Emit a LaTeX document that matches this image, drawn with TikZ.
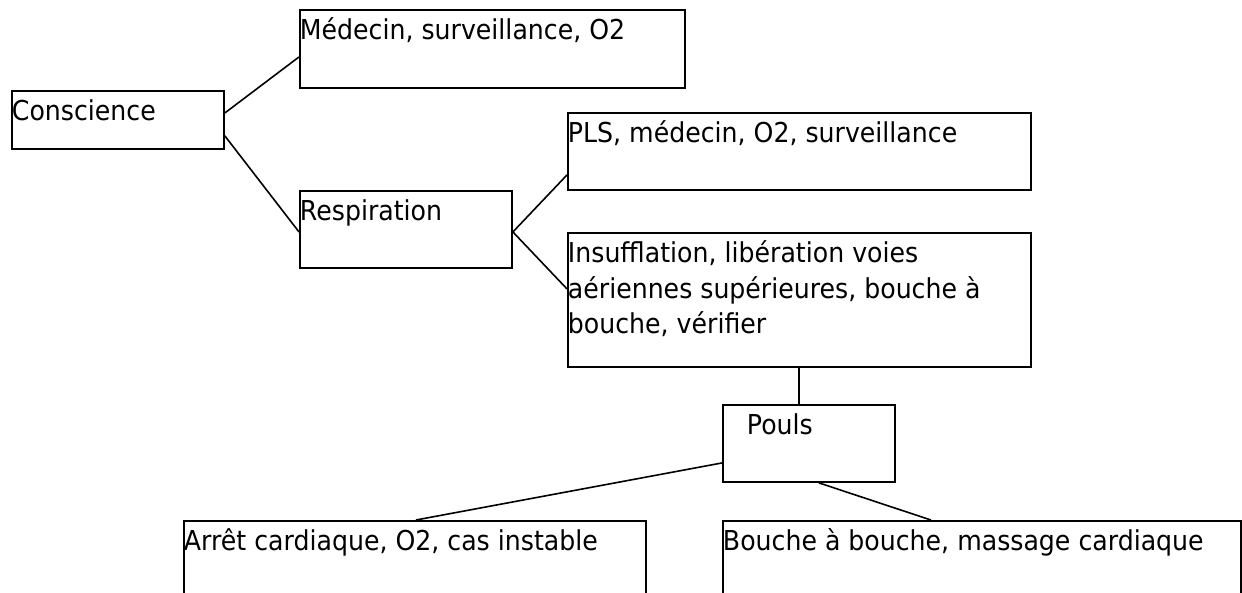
\documentclass[tikz,border=0pt]{standalone}
\usepackage{fontspec}
\setmainfont{DejaVu Sans}[FakeStretch=0.92]
\usetikzlibrary{positioning}
\tikzset{
  x=1pt, y=-1pt, % un pixel du schema = 1pt, vers le bas
  boite/.style={draw, line width=1.9pt, anchor=north west, inner sep=0pt,
    font=\fontsize{27.4pt}{35.5pt}\selectfont}, % les cases du schema
  trait/.style={line width=1.6pt}, % les liens entre les cases
}
% texte en haut a gauche d'une case : largeur, hauteur, texte
\newcommand{\casetexte}[3]{\parbox[c][#2][t]{#1}{\raggedright\rule{0pt}{30pt}#3}}

\begin{document}
\begin{tikzpicture}
      \useasboundingbox (0,0) rectangle (1242,593);
      \clip (0,0) rectangle (1242,593);

      \node[boite] (conscience) at (11,90) {\casetexte{212pt}{58pt}{Conscience}};
      \node[boite] (medecin) at (299,9) {\casetexte{385pt}{78pt}{Médecin, surveillance, O2}};
      \node[boite] (respiration) at (299,190) {\casetexte{212pt}{77pt}{Respiration}};
      \node[boite] (pls) at (567,112) {\casetexte{463pt}{77pt}{PLS, médecin, O2, surveillance}};
      \node[boite] (insufflation) at (567,232) {\casetexte{463pt}{134pt}{Insufflation, libération voies\\
        aériennes supérieures, bouche à\\ bouche, vérifier}};
      \node[boite] (pouls) at (722,404) {\casetexte{172pt}{77pt}{\hspace*{24pt}Pouls}};
      \node[boite] (arret) at (183,520) {\casetexte{462pt}{120pt}{Arrêt cardiaque, O2, cas instable}};
      \node[boite] (bouche) at (722,520) {\casetexte{518pt}{120pt}{Bouche à bouche, massage cardiaque}};

      \draw[trait]
      ([yshift=7pt]conscience.east) -- ([yshift=-8pt]medecin.west)
      ([yshift=-16pt]conscience.east) -- ([yshift=-2.5pt]respiration.west)
      ([yshift=-2.5pt]respiration.east) -- ([yshift=-23.5pt]pls.west)
      ([yshift=-2.5pt]respiration.east) -- ([yshift=11pt]insufflation.west)
      ([xshift=-10pt]pouls.north) -- ([xshift=-10pt]pouls.north |- insufflation.south)
      ([yshift=-19.5pt]pouls.west) -- ([xshift=1pt]arret.north)
      ([xshift=10pt]pouls.south) -- ([xshift=-51pt]bouche.north)
      ;
    \end{tikzpicture}
\end{document}
